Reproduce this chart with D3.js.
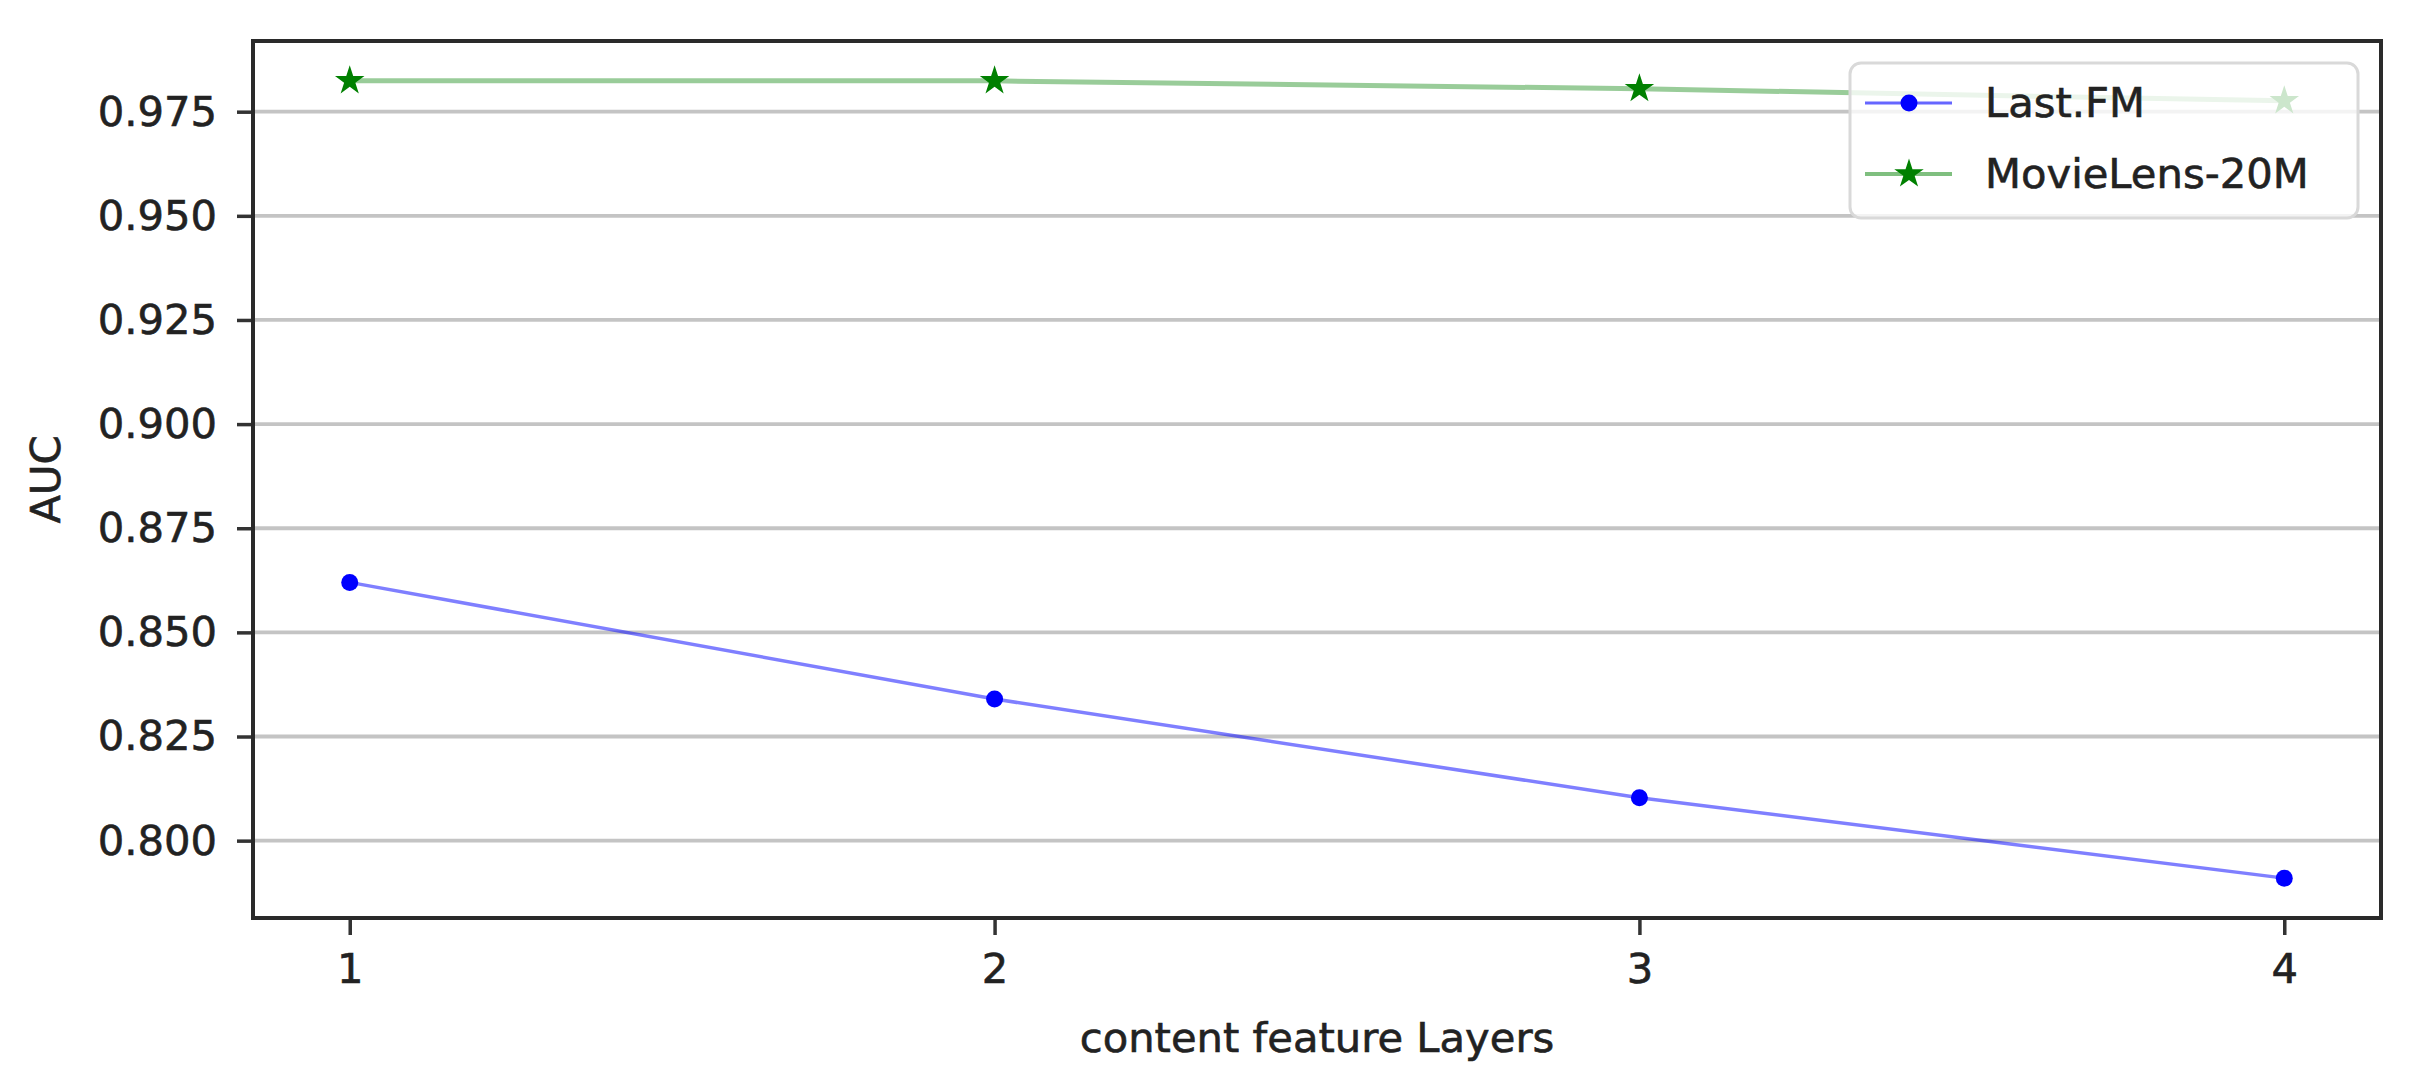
<!DOCTYPE html>
<html>
<head>
<meta charset="utf-8">
<script src="https://cdn.jsdelivr.net/npm/d3@7"></script>
<style>
  body { margin: 0; background: #fff; }
  text { font-family: "DejaVu Sans", sans-serif; fill: #222; stroke: #222; stroke-width: 0.6px; }
</style>
</head>
<body>
<div id="chart"></div>
<script>
// Values
const layers = [1, 2, 3, 4];
const lastFM = [0.862, 0.834, 0.8103, 0.791];
const movieLens = [0.9824, 0.9824, 0.9805, 0.9776];
const yTicks = [0.800, 0.825, 0.850, 0.875, 0.900, 0.925, 0.950, 0.975];
const seriesNames = ["Last.FM", "MovieLens-20M"];

const W = 2414, H = 1082;
const margin = { top: 41, right: 33, bottom: 164, left: 253 };
const width = W - margin.left - margin.right;
const height = H - margin.top - margin.bottom;
const fontSize = "41.7px";

const svg = d3.select("#chart").append("svg")
    .attr("width", W)
    .attr("height", H);

const g = svg.append("g")
    .attr("transform", `translate(${margin.left},${margin.top})`);

// matplotlib-like autoscale: 5% padding on each side
const xExt = d3.extent(layers);
const xPad = (xExt[1] - xExt[0]) * 0.05;
const xScale = d3.scaleLinear()
    .domain([xExt[0] - xPad, xExt[1] + xPad])
    .range([0, width]);

const yExt = d3.extent(lastFM.concat(movieLens));
const yPad = (yExt[1] - yExt[0]) * 0.05;
const yScale = d3.scaleLinear()
    .domain([yExt[0] - yPad, yExt[1] + yPad])
    .range([height, 0]);

// Horizontal grid
g.append("g")
    .selectAll("line")
    .data(yTicks)
    .join("line")
    .attr("x1", 0)
    .attr("x2", width)
    .attr("y1", d => yScale(d))
    .attr("y2", d => yScale(d))
    .attr("stroke", "#c4c4c4")
    .attr("stroke-width", 3.8);

const series = [
    { name: seriesNames[0], values: lastFM, color: "#0000ff", lineOpacity: 0.5, lineWidth: 3.5, marker: "circle" },
    { name: seriesNames[1], values: movieLens, color: "#008000", lineOpacity: 0.4, lineWidth: 5, marker: "star" }
];

const line = d3.line()
    .x((d, i) => xScale(layers[i]))
    .y(d => yScale(d));

const starPath = d3.symbol().type(d3.symbolStar).size(240 / 0.8908130915292852);

function drawMarker(sel, s) {
    if (s.marker === "circle") {
        sel.append("circle").attr("r", 8.5).attr("fill", s.color);
    } else {
        sel.append("path").attr("d", starPath()).attr("fill", s.color);
    }
}

series.forEach(s => {
    g.append("path")
        .datum(s.values)
        .attr("d", line)
        .attr("fill", "none")
        .attr("stroke", s.color)
        .attr("stroke-opacity", s.lineOpacity)
        .attr("stroke-width", s.lineWidth);

    s.values.forEach((v, i) => {
        const m = g.append("g")
            .attr("transform", `translate(${xScale(layers[i])},${yScale(v)})`);
        drawMarker(m, s);
    });
});

// Axes
const yAxis = g.append("g")
    .call(d3.axisLeft(yScale)
        .tickValues(yTicks)
        .tickFormat(d3.format(".3f"))
        .tickSize(16)
        .tickPadding(20));

const xAxis = g.append("g")
    .attr("transform", `translate(0,${height})`)
    .call(d3.axisBottom(xScale)
        .tickValues(layers)
        .tickFormat(d3.format("d"))
        .tickSize(17)
        .tickPadding(18));

[xAxis, yAxis].forEach(a => {
    a.select(".domain").remove();
    a.selectAll(".tick line").attr("stroke", "#333").attr("stroke-width", 3.5);
    a.selectAll(".tick text")
        .attr("fill", "#222")
        .style("font-size", fontSize)
        .style("font-family", "DejaVu Sans, sans-serif");
});

// Frame (spines)
g.append("rect")
    .attr("width", width)
    .attr("height", height)
    .attr("fill", "none")
    .attr("stroke", "#2a2a2a")
    .attr("stroke-width", 4);

// Axis labels
svg.append("text")
    .attr("x", margin.left + width / 2)
    .attr("y", 1052)
    .attr("text-anchor", "middle")
    .style("font-size", fontSize)
    .text("content feature Layers");

svg.append("text")
    .attr("transform", `translate(60,${margin.top + height / 2}) rotate(-90)`)
    .attr("text-anchor", "middle")
    .style("font-size", fontSize)
    .text("AUC");

// Legend (semi-transparent frame over the plot)
const legend = svg.append("g").attr("transform", "translate(1850,63)");
legend.append("rect")
    .attr("width", 508)
    .attr("height", 155)
    .attr("rx", 11)
    .attr("fill", "#fff")
    .attr("fill-opacity", 0.8)
    .attr("stroke", "#d9d9d9")
    .attr("stroke-width", 3);

series.forEach((s, i) => {
    const row = legend.append("g").attr("transform", `translate(0,${40 + i * 71})`);
    row.append("line")
        .attr("x1", 15).attr("x2", 102)
        .attr("stroke", s.color)
        .attr("stroke-opacity", s.lineOpacity + 0.1)
        .attr("stroke-width", s.lineWidth * 0.8);
    const m = row.append("g").attr("transform", "translate(59,0)");
    drawMarker(m, s);
    row.append("text")
        .attr("x", 135)
        .attr("y", 14)
        .style("font-size", fontSize)
        .text(s.name);
});
</script>
</body>
</html>
